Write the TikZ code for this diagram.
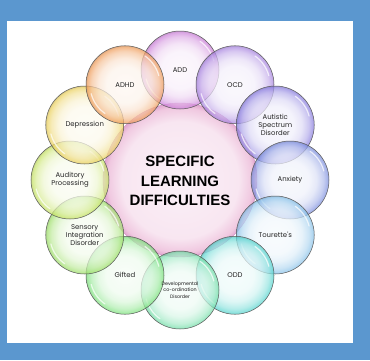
\documentclass[tikz,border=0pt]{standalone}
\usepackage{fontspec}
\setmainfont{Liberation Sans}
\newfontfamily\labfont{Poppins}
\usetikzlibrary{calc}
\definecolor{frameblue}{RGB}{91,151,207}
\definecolor{cCenter}{RGB}{232,160,205}
\definecolor{cADD}{RGB}{205,130,218}
\definecolor{cOCD}{RGB}{170,135,225}
\definecolor{cAUT}{RGB}{140,128,224}
\definecolor{cANX}{RGB}{128,146,224}
\definecolor{cTOU}{RGB}{140,196,234}
\definecolor{cODD}{RGB}{90,214,208}
\definecolor{cDEV}{RGB}{120,224,172}
\definecolor{cGIF}{RGB}{130,228,130}
\definecolor{cSEN}{RGB}{160,224,108}
\definecolor{cAUD}{RGB}{200,228,104}
\definecolor{cDEP}{RGB}{236,210,96}
\definecolor{cADHD}{RGB}{240,158,92}
\definecolor{hubA}{RGB}{251,240,247}
\definecolor{hubB}{RGB}{248,230,241}
\definecolor{hubC}{RGB}{240,200,224}
\definecolor{hubD}{RGB}{226,168,208}
\colorlet{bc}{cADD}
\pgfdeclareradialshading[bc]{bubble}{\pgfpoint{0bp}{0bp}}{color(0bp)=(bc!7!white); color(12bp)=(bc!12!white); color(17bp)=(bc!28!white); color(21.5bp)=(bc!62!white); color(24.3bp)=(bc); color(25bp)=(bc!85!black); color(50bp)=(bc!85!black)}
\pgfdeclareradialshading{hubshade}{\pgfpoint{0bp}{0bp}}{color(0bp)=(hubA); color(19bp)=(hubB); color(23.5bp)=(hubC); color(25bp)=(hubD); color(50bp)=(hubD)}
\begin{document}
\begin{tikzpicture}[x=1pt,y=1pt,
  bub/.style={circle, draw=black!65, line width=0.5pt, minimum size=78pt, inner sep=0pt, shading=bubble, fill opacity=0.72},
  hub/.style={circle, draw=hubD!80!violet, line width=0.4pt, minimum size=154pt, inner sep=0pt, shading=hubshade},
  glint/.style={white, line width=1.2pt, line cap=round, opacity=0.7},
  lab/.style={font=\labfont\fontsize{6.9}{8.3}\selectfont, align=center, text=black!85},
  small/.style={font=\labfont\fontsize{4.8}{6.5}\selectfont, align=center, text=black!90},
  title/.style={font=\bfseries\fontsize{15}{19.5}\selectfont, align=center, text=black}]
\useasboundingbox (0,0) rectangle (370,360);
\fill[frameblue] (0,0) rectangle (370,360);
\fill[white] (7,17) rectangle (353,339);
\coordinate (c) at (180,180);
\node[hub] (hub) at (c) {};
\foreach \ang/\col/\nm in {90/cADD/add, 60/cOCD/ocd, 30/cAUT/aut, 0/cANX/anx, -30/cTOU/tou, -60/cODD/odd, -90/cDEV/dev, -120/cGIF/gif, -150/cSEN/sen, 180/cAUD/aud, 150/cDEP/dep, 120/cADHD/adhd} {
  \colorlet{bc}{\col}
  \node[bub] (\nm) at ($(c)+(\ang:110)$) {};
  \draw[glint] ($(\nm)+(195:35)$) arc[start angle=195, end angle=235, radius=35];
  \draw[glint] ($(\nm)+(15:35)$) arc[start angle=15, end angle=55, radius=35];
}
\node[title] (t) at (180,179) {SPECIFIC\\LEARNING\\DIFFICULTIES};
\node[lab] (ladd) at (add) {ADD};
\node[lab] (locd) at (ocd) {OCD};
\node[lab] (laut) at (aut) {Autistic\\Spectrum\\Disorder};
\node[lab] (lanx) at (anx) {Anxiety};
\node[lab] (ltou) at (tou) {Tourette's};
\node[lab] (lodd) at (odd) {ODD};
\node[small] (ldev) at (dev) {Developmental\\co-ordination\\Disorder};
\node[lab] (lgif) at (gif) {Gifted};
\node[lab] (lsen) at (sen) {Sensory\\Integration\\Disorder};
\node[lab] (laud) at (aud) {Auditory\\Processing};
\node[lab] (ldep) at (dep) {Depression};
\node[lab] (ladhd) at (adhd) {ADHD};
\end{tikzpicture}
\end{document}
